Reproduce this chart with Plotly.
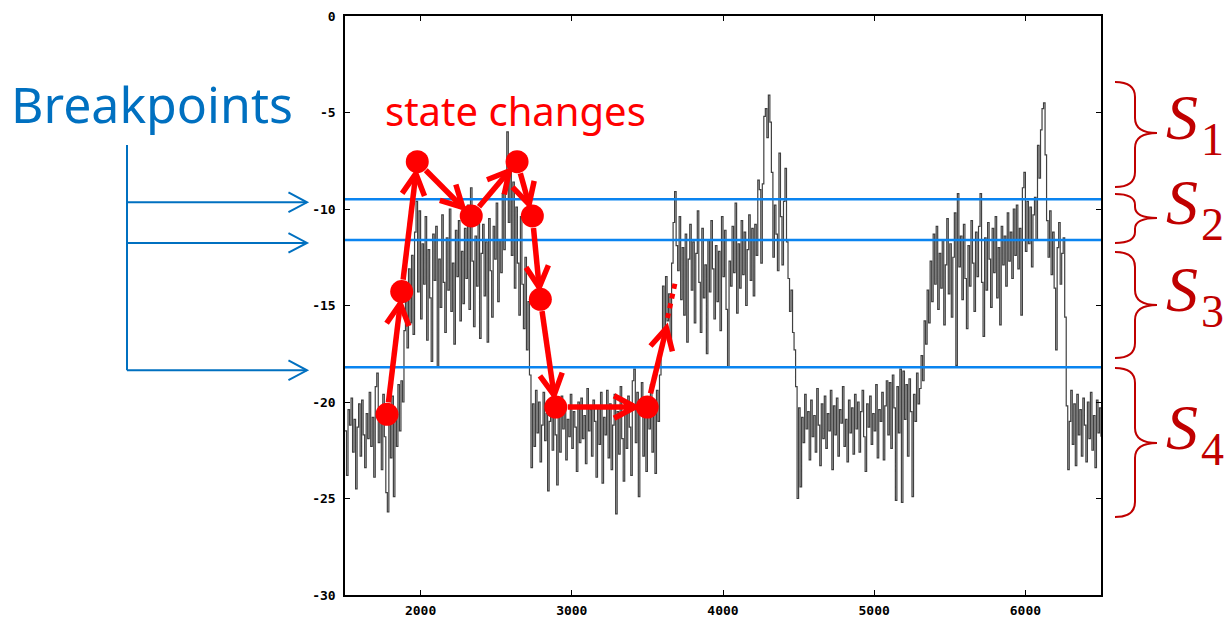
import math
import plotly.graph_objects as go

# ---------------- data ----------------
time = list(range(1500, 6501, 10))
signal = [
    -21.5, -23.8, -20.4, -21.2, -19.8, -22.6, -20.9, -24.5, -21.3, -20.1, -22.8, -19.9, -21.7, -23.4, -20.6, -21.9, -19.5, -22.3, -20.8, -23.9,
    -19.2, -18.5, -22.1, -20.3, -23.5, -19.6, -21.8, -24.7, -25.7, -20.4, -22.9, -19.7, -24.9, -20.8, -22.3, -19.1, -21.5, -18.9, -20.0, -16.3,
    -14.8, -17.2, -13.1, -15.9, -12.4, -16.5, -11.2, -9.6, -14.3, -10.1, -15.7, -11.8, -13.9, -10.4, -16.8, -12.1, -14.6, -17.9, -11.3, -13.7,
    -10.9, -18.2, -12.6, -15.1, -10.3, -13.8, -16.4, -11.5, -14.2, -10.0, -15.3, -12.8, -17.0, -11.1, -13.5, -10.6, -15.8, -12.2, -14.9, -11.0,
    -13.6, -9.8, -15.2, -8.9, -12.7, -16.1, -11.4, -14.0, -10.2, -16.7, -12.3, -10.8, -14.5, -11.7, -16.9, -10.5, -13.2, -15.6, -10.9, -12.6,
    -9.7, -14.8, -11.6, -13.3, -9.2, -12.1, -8.4, -6.0, -10.7, -7.8, -12.4, -8.6, -14.1, -9.9, -12.8, -15.5, -10.4, -13.9, -16.2, -12.5,
    -17.3, -14.8, -18.6, -23.4, -20.1, -22.3, -19.4, -21.6, -20.0, -23.1, -21.2, -19.5, -22.0, -20.6, -24.6, -21.0, -19.8, -22.5, -20.3, -21.7,
    -24.3, -20.8, -22.6, -19.7, -21.4, -20.2, -23.0, -20.9, -21.8, -19.6, -22.4, -20.5, -21.3, -23.6, -20.0, -22.1, -19.8, -21.9, -20.7, -23.2,
    -19.3, -21.5, -20.4, -22.8, -19.9, -21.0, -23.9, -20.3, -22.2, -19.5, -24.2, -20.8, -21.7, -19.4, -22.9, -20.1, -23.5, -21.2, -19.6, -25.8,
    -20.5, -22.7, -19.2, -21.9, -24.1, -20.0, -22.4, -19.7, -21.3, -23.8, -18.9, -18.3, -22.1, -19.5, -24.9, -20.6, -19.0, -22.8, -20.2, -23.6,
    -19.8, -21.4, -19.1, -22.6, -20.3, -23.7, -19.4, -21.0, -18.6, -17.2, -14.0, -16.3, -13.5, -15.8, -14.4, -16.9, -12.8, -10.7, -9.1, -11.9,
    -13.2, -10.4, -14.7, -12.0, -15.5, -11.3, -16.9, -12.6, -10.8, -14.2, -11.7, -15.9, -12.3, -10.1, -13.8, -16.4, -11.0, -14.6, -12.9, -17.5,
    -11.6, -14.3, -10.6, -13.1, -15.7, -11.9, -14.8, -12.2, -16.3, -10.4, -13.5, -11.1, -15.2, -18.2, -12.7, -14.0, -10.9, -13.3, -9.7, -15.4,
    -11.8, -14.1, -10.6, -13.4, -11.2, -15.0, -12.1, -10.3, -13.7, -11.0, -14.5, -10.8, -12.4, -8.5, -9.0, -12.8, -8.7, -5.2, -4.8, -6.3,
    -4.1, -5.5, -8.1, -12.5, -9.8, -11.3, -13.2, -7.1, -10.4, -12.9, -9.6, -7.9, -11.7, -13.6, -15.3, -14.2, -16.4, -17.3, -19.2, -25.0,
    -20.3, -24.4, -20.8, -22.1, -19.6, -21.4, -20.5, -23.0, -19.9, -21.8, -20.7, -22.6, -19.3, -21.2, -23.3, -20.1, -21.9, -19.7, -22.4, -20.6,
    -21.5, -19.4, -23.5, -20.2, -21.7, -19.8, -22.8, -20.4, -21.1, -19.2, -22.3, -20.9, -23.1, -19.9, -21.6, -20.3, -22.7, -19.6, -21.4, -20.0,
    -22.6, -20.5, -19.4, -21.8, -23.6, -20.1, -21.3, -19.7, -22.2, -20.6, -21.5, -19.1, -22.9, -20.4, -21.0, -19.5, -23.0, -20.2, -18.9, -21.7,
    -19.0, -22.4, -18.6, -20.3, -25.1, -19.2, -21.6, -18.3, -25.2, -18.4, -20.9, -19.1, -22.8, -18.8, -20.5, -24.9, -19.6, -21.0, -18.5, -20.1,
    -19.3, -17.6, -18.9, -15.8, -17.0, -14.2, -15.9, -12.7, -14.8, -11.3, -13.9, -10.9, -15.2, -12.3, -14.1, -11.6, -16.0, -12.9, -10.5, -14.4,
    -11.8, -15.6, -12.5, -10.2, -18.1, -9.2, -13.0, -11.4, -14.7, -10.8, -13.6, -16.2, -11.9, -14.0, -10.6, -12.8, -15.3, -11.2, -13.5, -10.9,
    -9.2, -13.8, -16.6, -11.5, -14.2, -10.7, -12.6, -15.1, -11.0, -13.3, -10.4, -14.6, -12.0, -16.0, -10.9, -12.9, -11.4, -14.0, -10.2, -12.7,
    -11.2, -13.6, -10.0, -12.4, -9.8, -13.1, -11.0, -15.5, -8.9, -8.1, -12.2, -9.6, -11.8, -9.9, -13.0, -10.3, -9.4, -11.6, -6.7, -8.4,
    -5.9, -4.8, -4.5, -7.2, -10.6, -12.5, -10.1, -13.4, -11.2, -14.1, -17.3, -12.0, -10.7, -13.9, -12.3, -11.5, -15.6, -20.2, -23.5, -21.0,
    -19.4, -22.2, -20.1, -23.3, -19.6, -21.7, -20.4, -22.8, -19.8, -21.2, -23.1, -20.0, -21.9, -19.5, -22.5, -20.7, -23.4, -19.9, -21.6, -20.3, -21.8,
]

breakpoints = [-9.5, -11.6, -18.2]

state_time = [1778, 1875, 1978, 2335, 2638, 2739, 2792, 2894, 3499]
state_level = [-20.64, -14.28, -7.55, -10.36, -7.55, -10.36, -14.68, -20.26, -20.26]
next_time = [3626, 3633, 3686]       # final arrow tip, dotted continuation start / end
next_level = [-16.17, -15.65, -13.73]

state_labels = ["1", "2", "3", "4"]
x_ticks = [2000, 3000, 4000, 5000, 6000]
y_ticks = [0, -5, -10, -15, -20, -25, -30]

# ---------------- geometry helpers ----------------
W, H = 1224, 620
PL, PR, PT, PB = 345, 1101, 16, 595
XMIN, XMAX, YMIN, YMAX = 1500, 6500, -30, 0


def d2px(x, y):
    return (PL + (x - XMIN) / (XMAX - XMIN) * (PR - PL),
            PT + (YMAX - y) / (YMAX - YMIN) * (PB - PT))


def px2p(px, py):
    return ((px - PL) / (PR - PL), (PB - py) / (PB - PT))


def pline(p, q, color, width, dash="solid"):
    a, b = px2p(*p), px2p(*q)
    return dict(type="line", xref="paper", yref="paper", x0=a[0], y0=a[1], x1=b[0], y1=b[1],
                line=dict(color=color, width=width, dash=dash), layer="above")


def vhead(tip, ux, uy, length, ang, color, width):
    pts = []
    for s in (1, -1):
        c, sn = math.cos(s * ang), math.sin(s * ang)
        rx, ry = -ux, -uy
        ax, ay = rx * c - ry * sn, rx * sn + ry * c
        pts.append((tip[0] + ax * length, tip[1] + ay * length))
    a, t, b = px2p(*pts[0]), px2p(*tip), px2p(*pts[1])
    path = f"M {a[0]},{a[1]} L {t[0]},{t[1]} L {b[0]},{b[1]}"
    return dict(type="path", xref="paper", yref="paper", path=path,
                line=dict(color=color, width=width), layer="above")


def arrow(p, q, color, width, head_len, ang, gap0=0, gap1=0):
    dx, dy = q[0] - p[0], q[1] - p[1]
    L = math.hypot(dx, dy)
    ux, uy = dx / L, dy / L
    s = (p[0] + ux * gap0, p[1] + uy * gap0)
    t = (q[0] - ux * gap1, q[1] - uy * gap1)
    return [pline(s, t, color, width), vhead(t, ux, uy, head_len, ang, color, width)]


def brace(ytop, ybot, ymid, x0=1115, xm=1135, xt=1157):
    r = min(15, (ymid - ytop) / 2.2, (ybot - ymid) / 2.2)
    pts = [("M", [(x0, ytop)]),
           ("Q", [(xm, ytop), (xm, ytop + r)]),
           ("L", [(xm, ymid - r)]),
           ("Q", [(xm, ymid), (xt, ymid)]),
           ("Q", [(xm, ymid), (xm, ymid + r)]),
           ("L", [(xm, ybot - r)]),
           ("Q", [(xm, ybot), (x0, ybot)])]
    path = ""
    for cmd, ps in pts:
        path += cmd + " " + " ".join("{},{}".format(*px2p(*pp)) for pp in ps) + " "
    return dict(type="path", xref="paper", yref="paper", path=path.strip(),
                line=dict(color="#C00000", width=2), layer="above")


# ---------------- figure ----------------
fig = go.Figure()
fig.add_trace(go.Scatter(x=time, y=signal, mode="lines",
                         line=dict(color="#404040", width=1.2, shape="hv"), hoverinfo="skip"))
fig.add_trace(go.Scatter(x=state_time, y=state_level, mode="markers",
                         marker=dict(color="#FF0000", size=23, line=dict(width=0)),
                         hoverinfo="skip"))

shapes = []
for b in breakpoints:
    shapes.append(dict(type="line", xref="paper", yref="y", x0=0, x1=1, y0=b, y1=b,
                       line=dict(color="#0A84F0", width=2.5), layer="above"))

RED = "#FF0000"
spx = [d2px(x, y) for x, y in zip(state_time, state_level)]
for i in range(len(spx) - 1):
    shapes += arrow(spx[i], spx[i + 1], RED, 5.5, 24, math.radians(28), gap0=12, gap1=12)
tip = d2px(next_time[0], next_level[0])
shapes += arrow(spx[-1], tip, RED, 5.5, 24, math.radians(28), gap0=14, gap1=0)
shapes.append(pline(d2px(next_time[1], next_level[1]), d2px(next_time[2], next_level[2]), RED, 5, "dot"))

# Breakpoints bracket (left)
BLUE = "#0070C0"
bp_px = [d2px(XMIN, b)[1] + 3 for b in breakpoints]
shapes.append(pline((127, 145), (127, bp_px[-1]), BLUE, 2))
for y in bp_px:
    shapes += arrow((127, y), (307, y), BLUE, 2, 21, math.radians(28))

# Right braces
s_edges = [(82, 187, 133), (194, 243, 218), (252, 358, 305), (368, 517, 443)]
for yt, yb, ym in s_edges:
    shapes.append(brace(yt, yb, ym))

annotations = []


def ann(text, px, py, size, color, family, xanchor="left", italic=False):
    x, y = px2p(px, py)
    return dict(text=text, x=x, y=y, xref="paper", yref="paper", showarrow=False,
                xanchor=xanchor, yanchor="middle",
                font=dict(size=size, color=color, family=family,
                          style="italic" if italic else "normal"))


annotations.append(ann("Breakpoints", 9, 104, 50, BLUE, "Noto Sans"))
annotations.append(ann("state changes", 383, 111, 40, RED, "Noto Sans"))
for lab, (yt, yb, ym) in zip(state_labels, s_edges):
    annotations.append(ann("S", 1164, ym - 16, 64, "#C00000", "Liberation Serif", italic=True))
    annotations.append(ann(lab, 1199, ym + 6, 46, "#C00000", "Liberation Serif"))

tickfont = dict(family="DejaVu Sans Mono", size=13, color="black", weight="bold")
fig.update_layout(
    width=W, height=H, autosize=False,
    margin=dict(l=PL, r=W - PR, t=PT, b=H - PB, pad=0),
    plot_bgcolor="white", paper_bgcolor="white",
    showlegend=False,
    shapes=shapes, annotations=annotations,
    xaxis=dict(range=[XMIN, XMAX], tickvals=x_ticks, ticktext=[str(v) for v in x_ticks],
               ticks="inside", ticklen=5, tickcolor="black", tickwidth=1,
               showline=True, linecolor="black", linewidth=1.5, mirror="ticks",
               showgrid=False, zeroline=False, tickfont=tickfont, ticklabelstandoff=3,
               automargin=False),
    yaxis=dict(range=[YMIN, YMAX], tickvals=y_ticks, ticktext=[str(v) for v in y_ticks],
               ticks="inside", ticklen=5, tickcolor="black", tickwidth=1,
               showline=True, linecolor="black", linewidth=1.5, mirror="ticks",
               showgrid=False, zeroline=False, tickfont=tickfont, ticklabelstandoff=5,
               automargin=False),
)

fig.write_html("out.html")
